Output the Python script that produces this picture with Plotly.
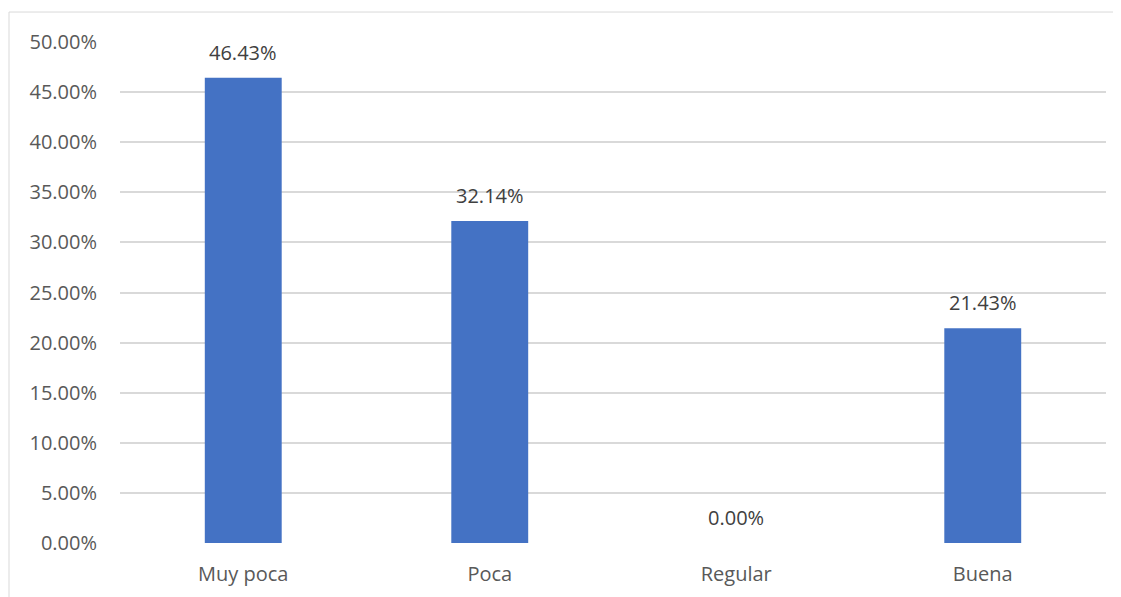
import plotly.graph_objects as go

categories = ["Muy poca", "Poca", "Regular", "Buena"]
values = [0.4643, 0.3214, 0.0, 0.2143]
y_ticks = [i * 0.05 for i in range(11)]
y_tick_labels = [f"{v*100:.2f}%" for v in y_ticks]

# page body has an 8px margin; figure sized so it ends at the window edge
OFF = 8
W, H = 1121 - OFF, 597 - OFF
ml, mr, mt, mb = 120 - OFF, 15, 42 - OFF, 53.5
pw, ph = W - ml - mr, H - mt - mb

fig = go.Figure()
fig.add_trace(go.Bar(
    x=categories, y=values,
    marker=dict(color="#4472C4", line=dict(width=0)),
    hoverinfo="skip",
))

for c, v in zip(categories, values):
    fig.add_annotation(x=c, y=v, text=f"{v*100:.2f}%", showarrow=False,
                       yanchor="bottom", yshift=10,
                       font=dict(family="Open Sans", size=20, color="#404040"))

# outer chart border (light gray), extending past right and bottom edges
fig.add_shape(type="rect", xref="paper", yref="paper",
              x0=(9 - OFF - ml) / pw, x1=(W + 20 - ml) / pw, y0=-1,
              y1=(H - mb - (12 - OFF)) / ph,
              line=dict(color="#D9D9D9", width=1), fillcolor="rgba(0,0,0,0)", layer="below")

fig.update_layout(
    width=W, height=H,
    margin=dict(l=ml, r=mr, t=mt, b=mb, autoexpand=False),
    paper_bgcolor="white", plot_bgcolor="white",
    bargap=0.688,
    showlegend=False,
    font=dict(family="Open Sans", size=20, color="#595959"),
)
fig.update_xaxes(showgrid=False, showline=False, zeroline=False, ticks="",
                 ticklabelstandoff=17, tickfont=dict(size=20, color="#595959"))
fig.update_yaxes(range=[0, 0.5], tickvals=y_ticks, ticktext=y_tick_labels,
                 showgrid=True, gridcolor="#D9D9D9", gridwidth=1.5,
                 zeroline=False, showline=False, ticks="",
                 ticklabelstandoff=22, tickfont=dict(size=20, color="#595959"))

fig.write_html("out.html")
